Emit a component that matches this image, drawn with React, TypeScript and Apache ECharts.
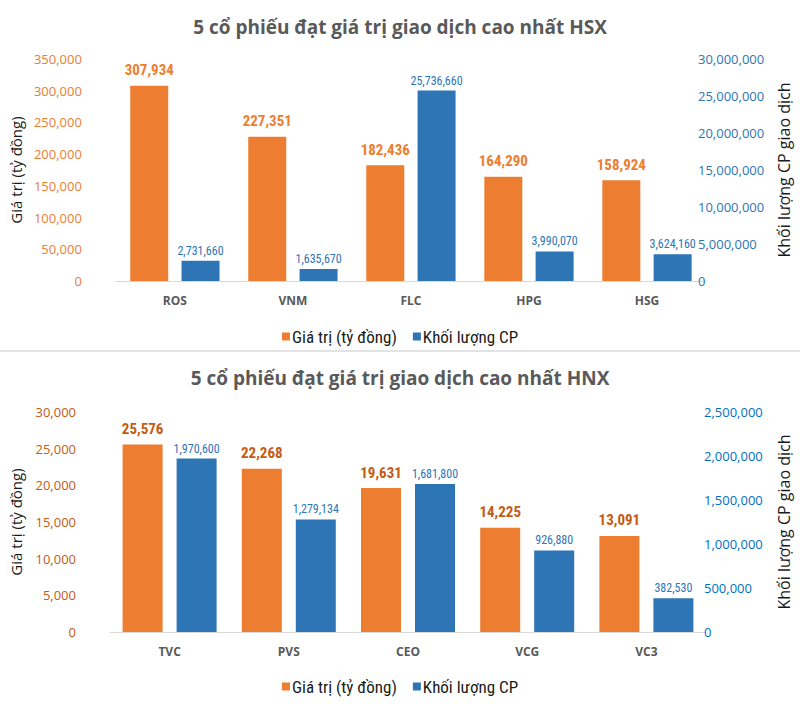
import React, { useEffect, useRef } from "react";
import * as echarts from "echarts";

const hsxCategories = ["ROS", "VNM", "FLC", "HPG", "HSG"];
const hsxValue = [307934, 227351, 182436, 164290, 158924];
const hsxVolume = [2731660, 1635670, 25736660, 3990070, 3624160];

const hnxCategories = ["TVC", "PVS", "CEO", "VCG", "VC3"];
const hnxValue = [25576, 22268, 19631, 14225, 13091];
const hnxVolume = [1970600, 1279134, 1681800, 926880, 382530];

const seriesNames = ["Giá trị (tỷ đồng)", "Khối lượng CP"];
const titles = [
  "5 cổ phiếu đạt giá trị giao dịch cao nhất HSX",
  "5 cổ phiếu đạt giá trị giao dịch cao nhất HNX",
];
const leftAxisName = "Giá trị (tỷ đồng)";
const rightAxisName = "Khối lượng CP giao dịch";

const ORANGE = "#ED7D31";
const BLUE = "#2E75B6";
const NARROW = "'Liberation Sans Narrow', 'Arial Narrow', 'Roboto Condensed', Roboto, sans-serif";
const SANS = "'Open Sans', 'Noto Sans', sans-serif";

const fmt = (v: number) => Number(v).toLocaleString("en-US");

export default function App() {
  const ref = useRef<HTMLDivElement>(null);
  useEffect(() => {
    if (!ref.current) return;
    const chart = echarts.init(ref.current, null, { renderer: "svg" });

    const yLeft = (gridIndex: number, max: number, interval: number, color: string) => ({
      type: "value",
      gridIndex,
      min: 0,
      max,
      interval,
      position: "left",
      name: leftAxisName,
      nameLocation: "middle",
      nameRotate: 90,
      nameGap: 87,
      nameTextStyle: { color: "#1a1a1a", fontSize: 15, fontFamily: SANS },
      axisLine: { show: false },
      axisTick: { show: false },
      splitLine: { show: false },
      axisLabel: { color, fontSize: 13, fontFamily: SANS, margin: 34, formatter: fmt },
    });
    const yRight = (gridIndex: number, max: number, interval: number, color: string, margin: number) => ({
      type: "value",
      gridIndex,
      min: 0,
      max,
      interval,
      position: "right",
      name: rightAxisName,
      nameLocation: "middle",
      nameRotate: 90,
      nameGap: 70,
      nameTextStyle: { color: "#1a1a1a", fontSize: 16, fontFamily: SANS },
      axisLine: { show: false },
      axisTick: { show: false },
      splitLine: { show: false },
      axisLabel: { color, fontSize: 13, fontFamily: SANS, margin, formatter: fmt },
    });
    const xAxis = (gridIndex: number, data: string[]) => ({
      type: "category",
      gridIndex,
      data,
      axisLine: { lineStyle: { color: "#D9D9D9", width: 1 } },
      axisTick: { show: false },
      axisLabel: { color: "#595959", fontSize: 12, fontWeight: "bold", fontFamily: SANS, margin: 13 },
    });
    const barSeries = (
      name: string,
      data: number[],
      xi: number,
      yi: number,
      color: string,
      labelColor: string,
      big: boolean,
      width: number
    ) => ({
      type: "bar",
      name,
      data,
      xAxisIndex: xi,
      yAxisIndex: yi,
      barWidth: width,
      barGap: "35%",
      itemStyle: { color },
      label: {
        show: true,
        position: "top",
        distance: big ? 8 : 4,
        color: labelColor,
        fontFamily: NARROW,
        fontSize: big ? 15 : 12,
        fontWeight: big ? "bold" : "normal",
        formatter: (p: any) => fmt(p.value),
      },
    });
    const legend = (top: number) => ({
      top,
      left: "center",
      icon: "rect",
      itemWidth: 8,
      itemHeight: 8,
      itemGap: 16,
      data: seriesNames,
      textStyle: { color: "#1a1a1a", fontSize: 17, fontFamily: NARROW, padding: [0, 0, 0, -3] },
    });

    chart.setOption({
      animation: false,
      backgroundColor: "#fff",
      title: [
        { text: titles[0], left: "center", top: 12, textStyle: { color: "#595959", fontSize: 19, fontWeight: "bold", fontFamily: SANS } },
        { text: titles[1], left: "center", top: 363, textStyle: { color: "#595959", fontSize: 19, fontWeight: "bold", fontFamily: SANS } },
      ],
      legend: [legend(323), legend(673)],
      grid: [
        { left: 105, right: 84, top: 59, height: 222 },
        { left: 98, right: 82, top: 412, height: 220 },
      ],
      xAxis: [xAxis(0, hsxCategories), xAxis(1, hnxCategories)],
      yAxis: [
        yLeft(0, 350000, 50000, ORANGE),
        yRight(0, 30000000, 5000000, BLUE, -8),
        yLeft(1, 30000, 5000, "#C55A11"),
        yRight(1, 2500000, 500000, "#0070C0", -2),
      ],
      series: [
        barSeries(seriesNames[0], hsxValue, 0, 0, ORANGE, ORANGE, true, 38),
        barSeries(seriesNames[1], hsxVolume, 0, 1, BLUE, BLUE, false, 38),
        barSeries(seriesNames[0], hnxValue, 1, 2, ORANGE, "#C55A11", true, 40),
        barSeries(seriesNames[1], hnxVolume, 1, 3, BLUE, BLUE, false, 40),
      ],
      graphic: [
        { type: "rect", left: 0, top: 350, shape: { width: 800, height: 2 }, style: { fill: "#E3E3E3" } },
      ],
    });
    return () => chart.dispose();
  }, []);
  return (
    <div
      ref={ref}
      style={{ position: "fixed", left: 0, top: 0, width: 800, height: 704, background: "#fff" }}
    />
  );
}
